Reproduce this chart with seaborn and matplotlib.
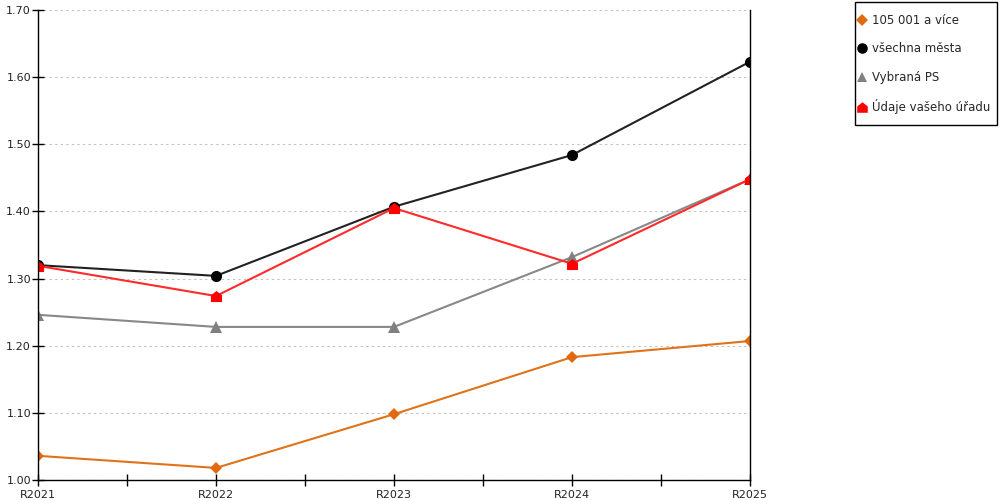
import matplotlib
matplotlib.use("Agg")
import matplotlib.pyplot as plt
from matplotlib.path import Path
from matplotlib.patches import Rectangle
from matplotlib.ticker import MultipleLocator
import seaborn as sns
import pandas as pd
import numpy as np

categories = ["R2021", "R2022", "R2023", "R2024", "R2025"]
series_names = ["105 001 a více", "všechna města", "Vybraná PS", "Údaje vašeho úřadu"]
v_105001 = [1.036, 1.018, 1.098, 1.183, 1.207]
v_vsechna = [1.320, 1.304, 1.407, 1.484, 1.623]
v_vybrana = [1.246, 1.228, 1.228, 1.332, 1.448]
v_urad = [1.319, 1.274, 1.405, 1.322, 1.448]

sns.set_theme(style="white")
plt.rcParams['font.family'] = ['DejaVu Sans']

house = Path([(-1, -1), (1, -1), (1, 0.2), (0, 1), (-1, 0.2), (-1, -1)],
             [Path.MOVETO, Path.LINETO, Path.LINETO, Path.LINETO, Path.LINETO, Path.CLOSEPOLY])

styles = [
    dict(color="#E0721A", mcolor="#E06A10", marker="D", ms=6),
    dict(color="#222222", mcolor="#000000", marker="o", ms=8),
    dict(color="#888888", mcolor="#808080", marker="^", ms=8),
    dict(color="#FF2A2A", mcolor="#FF0000", marker=house, ms=8),
]
values = [v_105001, v_vsechna, v_vybrana, v_urad]

fig = plt.figure(figsize=(10, 5), dpi=100)
ax = fig.add_axes([0.038, 0.04, 0.712, 0.94])

x = np.arange(len(categories))
handles = []
for name, vals, st in zip(series_names, values, styles):
    df = pd.DataFrame({"x": x, "y": vals})
    sns.lineplot(data=df, x="x", y="y", ax=ax, color=st["color"], linewidth=1.5,
                 marker=st["marker"], markersize=st["ms"], markerfacecolor=st["mcolor"],
                 markeredgecolor=st["mcolor"], markeredgewidth=0, label=name, legend=False)
    h = plt.Line2D([], [], linestyle="none", marker=st["marker"], markersize=st["ms"] * 0.95,
                   markerfacecolor=st["mcolor"], markeredgecolor=st["mcolor"], markeredgewidth=0)
    handles.append(h)

ax.set_xlim(0, len(categories) - 1)
ax.set_ylim(1.0, 1.7)
ax.yaxis.set_major_locator(MultipleLocator(0.1))
ax.yaxis.set_major_formatter(matplotlib.ticker.FormatStrFormatter("%.2f"))
ax.set_xticks(x)
ax.set_xticklabels(categories)
ax.set_xticks(x[:-1] + 0.5, minor=True)
ax.set_xlabel("")
ax.set_ylabel("")

ax.grid(True, axis="y", color="#c0c0c0", linestyle=(0, (2, 3)), linewidth=0.8)
ax.grid(False, axis="x")
ax.spines["top"].set_visible(False)
for side in ["left", "bottom", "right"]:
    ax.spines[side].set_visible(True)
    ax.spines[side].set_color("black")
    ax.spines[side].set_linewidth(1.0)

ax.tick_params(axis="y", which="major", direction="inout", length=8, width=1, color="black",
               labelsize=8, labelcolor="#222222", pad=1, left=True)
ax.tick_params(axis="x", which="both", direction="inout", length=8, width=1, color="black",
               labelsize=8, labelcolor="#222222", pad=3, bottom=True)

# legend box (frame drawn separately to get the original padding)
fig.patches.append(Rectangle((0.855, 1 - 125 / 500), 0.142, 123 / 500, transform=fig.transFigure,
                             facecolor="white", edgecolor="black", linewidth=1.0, zorder=0))
leg = fig.legend(handles, series_names, loc="upper left", bbox_to_anchor=(0.857, 0.972),
                 frameon=False, fontsize=8.5,
                 labelspacing=1.30, handlelength=0.9, handletextpad=0.4, borderpad=0.0,
                 borderaxespad=0)

fig.savefig("out.png", dpi=100, facecolor="white")
